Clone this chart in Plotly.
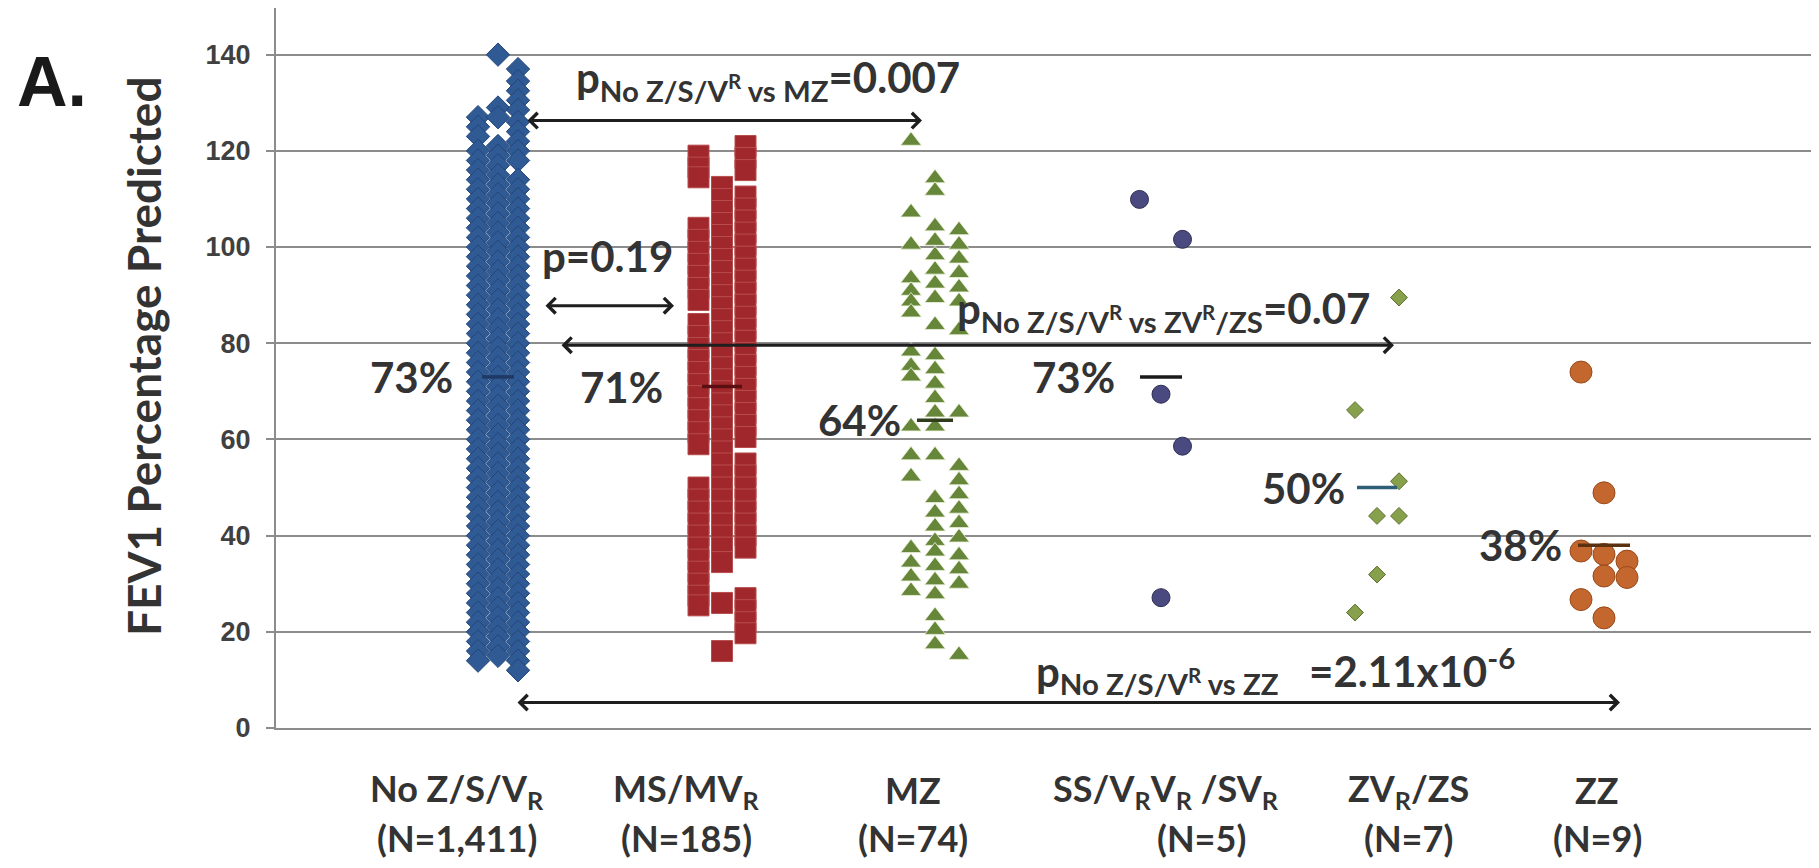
import plotly.graph_objects as go

# ---------------- data (FEV1 % predicted) ----------------
cat_names = ["No Z/S/V<sub>R</sub>", "MS/MV<sub>R</sub>", "MZ",
             "SS/V<sub>R</sub>V<sub>R</sub> /SV<sub>R</sub>", "ZV<sub>R</sub>/ZS", "ZZ"]
cat_counts = ["(N=1,411)", "(N=185)", "(N=74)", "(N=5)", "(N=7)", "(N=9)"]
medians = [73, 71, 64, 73, 50, 38]
median_text = ["73%", "71%", "64%", "73%", "50%", "38%"]

# No Z/S/VR : three dense stacked columns
nozsv_left = [127, 125, 123, 120, 118, 116, 114, 112, 110, 108, 106, 104, 102, 100, 98, 96, 94, 92,
              90, 88, 86, 84, 82, 80, 78, 76, 74, 72, 70, 68, 66, 64, 62, 60, 58, 56, 54, 52, 50, 48,
              46, 44, 42, 40, 38, 36, 34, 32, 30, 28, 26, 24, 22, 20, 18, 16, 14]
nozsv_mid = [140, 129, 127, 121, 119, 117, 115, 113, 111, 109, 107, 105, 103, 101, 99, 97, 95, 93,
             91, 89, 87, 85, 83, 81, 79, 77, 75, 73, 71, 69, 67, 65, 63, 61, 59, 57, 55, 53, 51, 49,
             47, 45, 43, 41, 39, 37, 35, 33, 31, 29, 27, 25, 23, 21, 19, 17, 15]
nozsv_right = [137, 134.5, 132.5, 130.5, 128.5, 126, 124, 122, 120, 118, 114, 112, 110, 108, 106,
               104, 102, 100, 98, 96, 94, 92, 90, 88, 86, 84, 82, 80, 78, 76, 74, 72, 70, 68, 66,
               64, 62, 60, 58, 56, 54, 52, 50, 48, 46, 44, 42, 40, 38, 36, 34, 32, 30, 28, 26, 24,
               22, 20, 18, 16, 14, 12]

# MS/MVR : three stacked columns of squares
msmv_left = [119, 116.5, 114.5, 104, 101.5, 99, 96.5, 94, 91.5, 89, 84, 81.5, 79, 76.5, 74, 71.5, 69,
             66.5, 64, 61.5, 59, 50, 47.5, 45, 42.5, 40, 37.5, 35, 32.5, 30, 27.5, 25.5]
msmv_mid = [112.5, 110, 107.5, 105, 102.5, 100, 97.5, 95, 92.5, 90, 87.5, 85, 82.5, 80, 77.5, 75,
            72.5, 70, 67.5, 65, 62.5, 60, 57.5, 55, 52.5, 50, 47.5, 45, 42.5, 40, 37.5, 34.5, 26, 16]
msmv_right = [121, 118.5, 116, 110.5, 108, 105.5, 103, 100.5, 98, 95.5, 93, 90.5, 88, 85.5, 83,
              80.5, 78, 75.5, 73, 70.5, 68, 65.5, 63, 60.5, 55, 52.5, 50, 47.5, 45, 42.5, 40, 37.5,
              27, 24.5, 22, 19.7]

# MZ : triangles in three columns
mz_left = [122.1, 107.2, 100.5, 93.5, 90.9, 88.7, 86.4, 78.3, 75.3, 73.1, 62.7, 56.7, 52.3,
           37.4, 34.4, 31.5, 28.5]
mz_mid = [114.3, 111.7, 104.3, 101.3, 98.3, 95.3, 92.4, 89.4, 83.8, 77.5, 74.6, 71.6, 68.6, 65.6,
          62.7, 56.7, 47.8, 44.8, 41.9, 38.9, 36.7, 33.7, 30.7, 27.8, 23.3, 20.4, 17.4]
mz_right = [103.5, 100.5, 97.6, 94.6, 91.6, 88.7, 82.7, 65.6, 54.5, 51.5, 48.6, 45.6, 42.6, 39.6,
            35.9, 33.0, 30.0, 15.2]

# small groups: value and column slot (-1 left, 0 middle, 1 right)
ss_values = [109.9, 101.6, 69.4, 58.6, 27.1]
ss_slots = [-1, 1, 0, 1, 0]
zv_values = [89.5, 66.1, 51.3, 44.1, 44.1, 31.9, 24.0]
zv_slots = [1, -1, 1, 0, 1, 0, -1]
zz_values = [74.0, 48.9, 36.8, 36.1, 34.7, 31.6, 31.3, 26.7, 22.9]
zz_slots = [-1, 0, -1, 0, 1, 0, 1, -1, 0]

y_ticks = [0, 20, 40, 60, 80, 100, 120, 140]

# ---------------- layout / style ----------------
group_x = [222, 446, 659, 885, 1101, 1328]
col_step = [20, 23.5, 24, 21.5, 22, 23]
label_x1 = [181, 410, 637, 890, 1132, 1321]
label_x2 = [181, 410, 637, 925, 1132, 1321]
median_half = [16, 20, 18, 21, 20, 26]
pct_gap = [43, 57, 32, 44, 30, 40]
median_colors = ["#1f3864", "#5c0f12", "#2f3d1c", "#1a1a1a", "#2f5f78", "#5a3212"]

styles = [
    dict(symbol="diamond", size=18, color="#2f5a94", line=dict(color="#22467c", width=1)),
    dict(symbol="square", size=21, color="#a0282d", line=dict(color="#b84c4c", width=1)),
    dict(symbol="triangle-up", size=18, color="#66863a", line=dict(color="#eef4dc", width=0.8)),
    dict(symbol="circle", size=18, color="#4a4a80", line=dict(color="#2e2e55", width=1)),
    dict(symbol="diamond", size=13, color="#86a04c", line=dict(color="#5d7030", width=1)),
    dict(symbol="circle", size=22, color="#c4672e", line=dict(color="#9a4a1a", width=1)),
]

group_columns = [
    [(nozsv_left, -1), (nozsv_mid, 0), (nozsv_right, 1)],
    [(msmv_left, -1), (msmv_mid, 0), (msmv_right, 1)],
    [(mz_left, -1), (mz_mid, 0), (mz_right, 1)],
]
small_groups = [(ss_values, ss_slots), (zv_values, zv_slots), (zz_values, zz_slots)]

fig = go.Figure()
for gi, cols in enumerate(group_columns):
    xs, ys = [], []
    for vals, slot in cols:
        for v in vals:
            xs.append(group_x[gi] + slot * col_step[gi])
            ys.append(v)
    fig.add_trace(go.Scatter(x=xs, y=ys, mode="markers", marker=styles[gi],
                             showlegend=False, hoverinfo="y"))
for k, (vals, slots) in enumerate(small_groups):
    gi = k + 3
    xs = [group_x[gi] + s * col_step[gi] for s in slots]
    fig.add_trace(go.Scatter(x=xs, y=vals, mode="markers", marker=styles[gi],
                             showlegend=False, hoverinfo="y"))

TXT = "#333333"
annotations = []
for gi in range(6):
    fig.add_trace(go.Scatter(x=[group_x[gi] - median_half[gi], group_x[gi] + median_half[gi]],
                             y=[medians[gi], medians[gi]], mode="lines",
                             line=dict(color=median_colors[gi], width=3.5),
                             showlegend=False, hoverinfo="skip"))
    annotations.append(dict(x=group_x[gi] - pct_gap[gi], y=medians[gi], xref="x", yref="y",
                            text=median_text[gi], showarrow=False, xanchor="right",
                            yanchor="middle", font=dict(family="Lato", size=42, color=TXT,
                                                        weight="bold")))
    annotations.append(dict(x=label_x1[gi], y=-0.0867, xref="x", yref="paper",
                            text=cat_names[gi], showarrow=False, xanchor="center",
                            yanchor="middle", font=dict(family="Lato", size=36, color=TXT,
                                                        weight="bold")))
    annotations.append(dict(x=label_x2[gi], y=-0.153, xref="x", yref="paper",
                            text=cat_counts[gi], showarrow=False, xanchor="center",
                            yanchor="middle", font=dict(family="Lato", size=36, color=TXT,
                                                        weight="bold")))

# comparison arrows (start, end, level)
arrows = [(250, 646, 126.3), (268, 398, 87.8), (284, 1118, 79.6), (240, 1344, 5.3)]
for x0, x1, yv in arrows:
    annotations.append(dict(x=x1, y=yv, ax=x0, ay=yv, xref="x", yref="y", axref="x", ayref="y",
                            text="", showarrow=True, arrowside="end+start",
                            arrowhead=4, startarrowhead=4, arrowsize=1, startarrowsize=1,
                            arrowwidth=3, arrowcolor="#1e1e1e", standoff=0, startstandoff=0))

NB = "\u00a0"
pfont = dict(family="Lato", size=42, color=TXT, weight="bold")
ptexts = [
    (298, 134.7, "p<sub>No Z/S/V<sup>R</sup> vs MZ</sub>=0.007"),
    (264, 98.2, "p=0.19"),
    (679, 86.6, "p<sub>No Z/S/V<sup>R</sup> vs ZV<sup>R</sup>/ZS</sub>=0.07"),
    (758, 11.9, "p<sub>No Z/S/V<sup>R</sup> vs ZZ</sub>" + NB * 3 + "=2.11x10<sup>-6</sup>"),
]
for px, py, t in ptexts:
    annotations.append(dict(x=px, y=py, xref="x", yref="y", text=t, showarrow=False,
                            xanchor="left", yanchor="middle", font=pfont))

annotations.append(dict(x=-0.085, y=0.5156, xref="paper", yref="paper",
                        text="FEV1 Percentage Predicted", textangle=-90, showarrow=False,
                        xanchor="center", yanchor="middle",
                        font=dict(family="Lato", size=46, color=TXT, weight="bold")))
annotations.append(dict(x=-0.168, y=0.897, xref="paper", yref="paper", text="A.",
                        showarrow=False, xanchor="left", yanchor="middle",
                        font=dict(family="Liberation Sans", size=70, color="#1a1a1a",
                                  weight="bold")))

GRID = "#8c8c8c"
fig.update_layout(
    width=1819, height=868,
    margin=dict(l=268, r=0, t=0, b=147.5),
    paper_bgcolor="white", plot_bgcolor="white",
    annotations=annotations,
    xaxis=dict(range=[0, 1551], showgrid=False, zeroline=False, showticklabels=False,
               showline=True, linecolor=GRID, linewidth=2, fixedrange=True),
    yaxis=dict(range=[0, 149.7], tickvals=y_ticks, showgrid=True, gridcolor=GRID, gridwidth=2,
               zeroline=False, showline=True, linecolor=GRID, linewidth=2,
               ticks="outside", ticklen=8, tickwidth=2, tickcolor=GRID,
               ticklabelstandoff=10,
               tickfont=dict(family="Liberation Sans", size=27, color="#404040", weight="bold")),
)

fig.write_html("out.html")
